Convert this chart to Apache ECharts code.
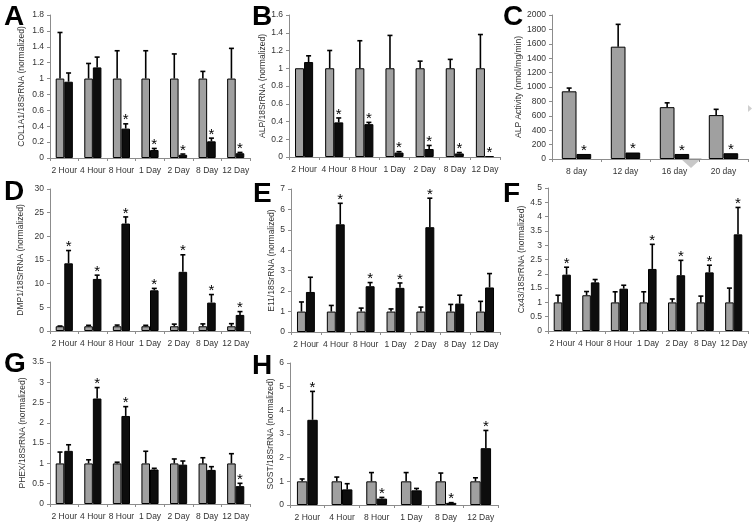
<!DOCTYPE html>
<html><head><meta charset="utf-8">
<script src="https://cdn.jsdelivr.net/npm/echarts@6/dist/echarts.min.js"></script>
<style>html,body{margin:0;padding:0;background:#fff}#c{width:756px;height:527px}</style>
</head><body><div id="c"></div>
<script>
// ---- categories ----
const catTime7 = ['2 Hour','4 Hour','8 Hour','1 Day','2 Day','8 Day','12 Day'];
const catDays4 = ['8 day','12 day','16 day','20 day'];
const catTime6 = ['2 Hour','4 Hour','8 Hour','1 Day','8 Day','12 Day'];

// ---- A: COL1A1 ----
const A_ctrl   = [1,1,1,1,1,1,1];
const A_ctrlHi = [1.58,1.19,1.35,1.35,1.31,1.09,1.38];
const A_trt    = [0.96,1.14,0.37,0.10,0.04,0.21,0.06];
const A_trtHi  = [1.07,1.27,0.43,0.12,0.05,0.25,0.07];
const A_sig    = [0,0,1,1,1,1,1];
// ---- B: ALP ----
const B_ctrl   = [1,1,1,1,1,1,1];
const B_ctrlHi = [1,1.2,1.31,1.37,1.08,1.1,1.38];
const B_trt    = [1.07,0.39,0.37,0.05,0.09,0.04,0.01];
const B_trtHi  = [1.14,0.44,0.39,0.06,0.13,0.05,0.01];
const B_sig    = [0,1,1,1,1,1,1];
// ---- C: ALP activity ----
const C_ctrl   = [940,1560,720,610];
const C_ctrlHi = [985,1870,780,690];
const C_trt    = [70,90,70,80];
const C_trtHi  = [70,90,70,80];
const C_sig    = [1,1,1,1];
// ---- D: DMP1 ----
const D_ctrl   = [1,1,1,1,1,1,1];
const D_ctrlHi = [1.05,1.2,1.25,1.2,1.45,1.5,1.55];
const D_trt    = [14.3,11.0,22.7,8.6,12.5,6.0,3.4];
const D_trtHi  = [17.0,11.8,24.1,9.0,16.1,7.7,4.1];
const D_sig    = [1,1,1,1,1,1,1];
// ---- E: E11 ----
const E_ctrl   = [1,1,1,1,1,1,1];
const E_ctrlHi = [1.47,1.3,1.17,1.13,1.22,1.35,1.5];
const E_trt    = [1.96,5.27,2.24,2.16,5.13,1.39,2.18];
const E_trtHi  = [2.68,6.3,2.42,2.4,6.55,1.8,2.86];
const E_sig    = [0,1,1,1,1,0,0];
// ---- F: Cx43 ----
const F_ctrl   = [1,1.25,1,1,1,1,1];
const F_ctrlHi = [1.25,1.38,1.37,1.37,1.12,1.22,1.5];
const F_trt    = [1.97,1.7,1.48,2.17,1.95,2.05,3.38];
const F_trtHi  = [2.23,1.8,1.6,3.03,2.47,2.3,4.32];
const F_sig    = [1,0,0,1,1,1,1];
// ---- G: PHEX ----
const G_ctrl   = [1,1,1,1,1,1,1];
const G_ctrlHi = [1.28,1.09,1.03,1.3,1.11,1.14,1.24];
const G_trt    = [1.31,2.6,2.17,0.85,0.97,0.84,0.44];
const G_trtHi  = [1.46,2.87,2.4,0.88,1.06,0.92,0.51];
const G_sig    = [0,1,1,0,0,0,1];
// ---- H: SOST ----
const H_ctrl   = [1,1,1,1,1,1];
const H_ctrlHi = [1.1,1.18,1.37,1.37,1.35,1.15];
const H_trt    = [3.6,0.66,0.27,0.62,0.09,2.4];
const H_trtHi  = [4.8,0.9,0.32,0.7,0.1,3.15];
const H_sig    = [1,0,1,0,1,1];

// ---- y axis settings ----
const yMax  = {A:1.8, B:1.6, C:2000, D:30, E:7, F:5, G:3.5, H:6};
const yStep = {A:0.2, B:0.2, C:200, D:5, E:1, F:0.5, G:0.5, H:1};
const yTitle = {
  A:'COL1A1/18SrRNA (normalized)', B:'ALP/18SrRNA (normalized)', C:'ALP Activity (nmol/mg/min)',
  D:'DMP1/18SrRNA (normalized)', E:'E11/18SrRNA (normalized)', F:'Cx43/18SrRNA (normalized)',
  G:'PHEX/18SrRNA (normalized)', H:'SOST/18SrRNA (normalized)'
};

const panels = [
  {id:'A', cats:catTime7, ctrl:A_ctrl, ctrlHi:A_ctrlHi, trt:A_trt, trtHi:A_trtHi, sig:A_sig, rect:[50,15,200,143], gap:24, letter:[4,3]},
  {id:'B', cats:catTime7, ctrl:B_ctrl, ctrlHi:B_ctrlHi, trt:B_trt, trtHi:B_trtHi, sig:B_sig, rect:[289,15,211,142], gap:12, letter:[252,3]},
  {id:'C', cats:catDays4, ctrl:C_ctrl, ctrlHi:C_ctrlHi, trt:C_trt, trtHi:C_trtHi, sig:C_sig, rect:[552,15,196,144], gap:28, letter:[503,3]},
  {id:'D', cats:catTime7, ctrl:D_ctrl, ctrlHi:D_ctrlHi, trt:D_trt, trtHi:D_trtHi, sig:D_sig, rect:[50,189,200,142], gap:25, letter:[4,178]},
  {id:'E', cats:catTime7, ctrl:E_ctrl, ctrlHi:E_ctrlHi, trt:E_trt, trtHi:E_trtHi, sig:E_sig, rect:[291,189,209,143], gap:15, letter:[253,180]},
  {id:'F', cats:catTime7, ctrl:F_ctrl, ctrlHi:F_ctrlHi, trt:F_trt, trtHi:F_trtHi, sig:F_sig, rect:[548,188,200,143], gap:22, letter:[503,180]},
  {id:'G', cats:catTime7, ctrl:G_ctrl, ctrlHi:G_ctrlHi, trt:G_trt, trtHi:G_trtHi, sig:G_sig, rect:[50,362,200,142], gap:23, letter:[4,350]},
  {id:'H', cats:catTime6, ctrl:H_ctrl, ctrlHi:H_ctrlHi, trt:H_trt, trtHi:H_trtHi, sig:H_sig, rect:[290,363,208,142], gap:14, letter:[252,352]}
];

const GAP = 0.4;
const FONT = 'Liberation Sans';
const AX = '#8c8c8c';

function errRender(side){
  return function(params, api){
    const i = api.value(0), v = api.value(1), hi = api.value(2), s = api.value(3);
    const base = api.coord([i, v]);
    const top = api.coord([i, hi]);
    const cw = api.size([1, 0])[0];
    const bw = cw * (1 - GAP) / 2;
    const x = base[0] + side * bw / 2;
    const ch = [];
    if (hi > v) {
      ch.push({type:'line', shape:{x1:x, y1:base[1], x2:x, y2:top[1]}, style:{stroke:'#000', lineWidth:1.6}});
      ch.push({type:'line', shape:{x1:x-2.5, y1:top[1], x2:x+2.5, y2:top[1]}, style:{stroke:'#000', lineWidth:1.6}});
    }
    if (s) {
      ch.push({type:'text', style:{text:'*', x:x, y:Math.min(top[1], base[1]) - 11, align:'center', verticalAlign:'top', font:'15px ' + FONT, fill:'#000'}});
    }
    return {type:'group', children:ch};
  };
}

const option = {animation:false, backgroundColor:'#fff', grid:[], xAxis:[], yAxis:[], series:[], graphic:[]};

panels.forEach((p, k) => {
  const [l, t, w, h] = p.rect;
  option.grid.push({left:l, top:t, width:w, height:h, containLabel:false});
  option.xAxis.push({
    type:'category', gridIndex:k, data:p.cats,
    axisLine:{lineStyle:{color:AX, width:1}},
    axisTick:{show:true, length:3, interval:0, lineStyle:{color:AX}},
    axisLabel:{interval:0, fontSize:8.5, color:'#333', fontFamily:FONT, margin:8}
  });
  option.yAxis.push({
    type:'value', gridIndex:k, min:0, max:yMax[p.id], interval:yStep[p.id],
    name:yTitle[p.id], nameLocation:'middle', nameRotate:90, nameGap:p.gap,
    nameTextStyle:{fontSize:8.5, color:'#333', fontFamily:FONT},
    axisLine:{show:true, lineStyle:{color:AX, width:1}},
    axisTick:{show:true, length:3, lineStyle:{color:AX}},
    axisLabel:{fontSize:8.5, color:'#333', fontFamily:FONT, margin:6,
      formatter:function(v){ return String(Math.round(v * 100) / 100); }},
    splitLine:{show:false}
  });
  option.series.push({
    type:'bar', xAxisIndex:k, yAxisIndex:k, data:p.ctrl,
    barGap:'0%', barCategoryGap:(GAP*100)+'%',
    itemStyle:{color:'#a0a0a0', borderColor:'#000', borderWidth:1}
  });
  option.series.push({
    type:'bar', xAxisIndex:k, yAxisIndex:k, data:p.trt,
    barGap:'0%', barCategoryGap:(GAP*100)+'%',
    itemStyle:{color:'#0d0d0d', borderColor:'#000', borderWidth:1}
  });
  option.series.push({
    type:'custom', xAxisIndex:k, yAxisIndex:k, renderItem:errRender(-1), z:5,
    data:p.ctrl.map((v, i) => [i, v, p.ctrlHi[i], 0])
  });
  option.series.push({
    type:'custom', xAxisIndex:k, yAxisIndex:k, renderItem:errRender(1), z:5,
    data:p.trt.map((v, i) => [i, v, p.trtHi[i], p.sig[i]])
  });
  option.graphic.push({type:'text', left:p.letter[0], top:p.letter[1],
    style:{text:p.id, font:'bold 28px ' + FONT, fill:'#000'}});
});

// small grey scan artefacts seen in the reference
option.graphic.push({type:'polygon', shape:{points:[[680,158],[702,158],[691,168]]}, style:{fill:'#c8c8c8'}});
option.graphic.push({type:'polygon', shape:{points:[[748,105],[748,112],[752,108.5]]}, style:{fill:'#cfcfcf'}});

const chart = echarts.init(document.getElementById('c'), null, {renderer:'canvas'});
chart.setOption(option);
</script>
</body></html>
